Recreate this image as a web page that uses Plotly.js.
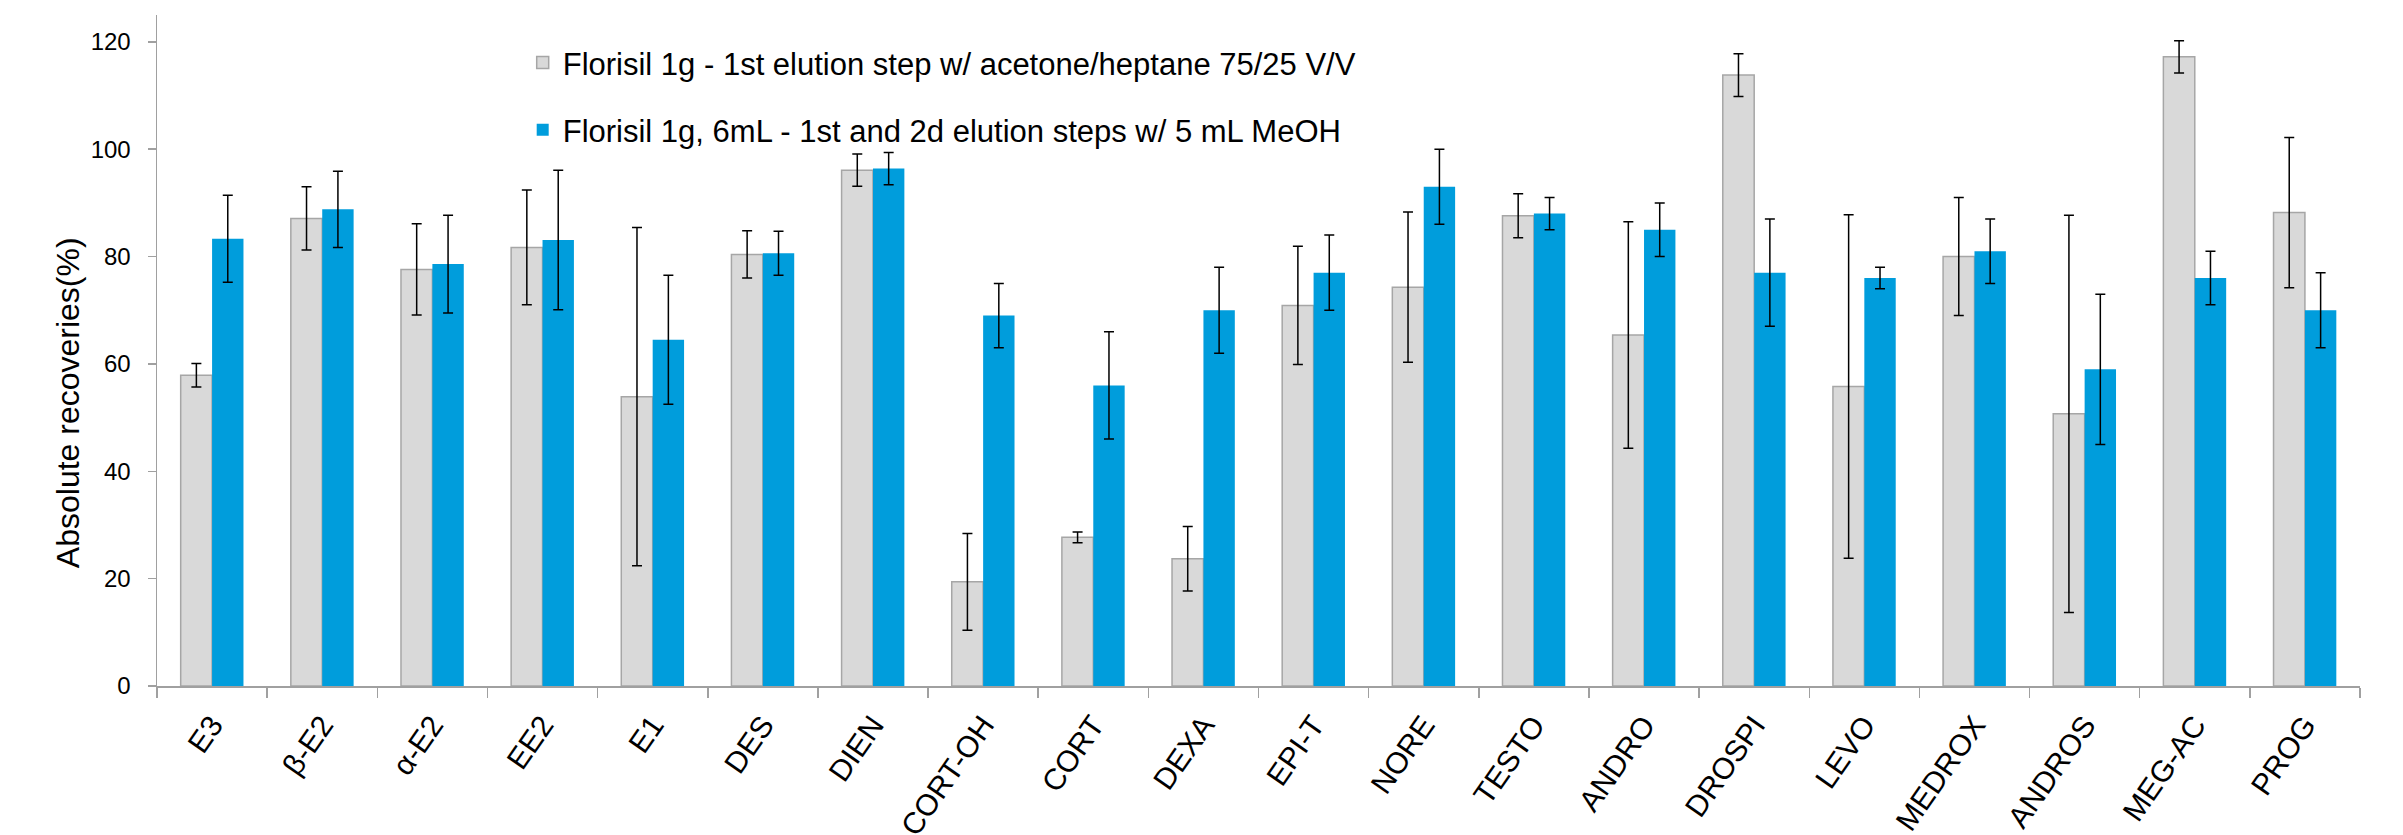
<!DOCTYPE html>
<html>
<head>
<meta charset="utf-8">
<script src="https://cdn.plot.ly/plotly-3.0.1.min.js"></script>
<style>
  html, body { margin: 0; padding: 0; background: #ffffff; }
  #chart { width: 2403px; height: 835px; }
</style>
</head>
<body>
<div id="chart"></div>
<script>
// ---- Data ----
const categories = ["E3", "β-E2", "α-E2", "EE2", "E1", "DES", "DIEN", "CORT-OH", "CORT", "DEXA",
                    "EPI-T", "NORE", "TESTO", "ANDRO", "DROSPI", "LEVO", "MEDROX", "ANDROS", "MEG-AC", "PROG"];

const seriesAcetoneName = "Florisil 1g - 1st elution step w/ acetone/heptane 75/25 V/V";
const seriesAcetone = [57.9, 87.1, 77.6, 81.7, 53.9, 80.4, 96.1, 19.4, 27.7, 23.7,
                       70.9, 74.3, 87.6, 65.4, 113.8, 55.8, 80.0, 50.7, 117.2, 88.2];
const seriesAcetoneErr = [2.2, 5.9, 8.5, 10.7, 31.5, 4.4, 3.0, 9.0, 1.0, 6.0,
                          11.0, 14.0, 4.1, 21.1, 4.0, 32.0, 11.0, 37.0, 3.0, 14.0];

const seriesMeohName = "Florisil 1g, 6mL - 1st and 2d elution steps w/ 5 mL MeOH";
const seriesMeoh = [83.3, 88.8, 78.6, 83.1, 64.5, 80.6, 96.4, 69.0, 56.0, 70.0,
                    77.0, 93.0, 88.0, 85.0, 77.0, 76.0, 81.0, 59.0, 76.0, 70.0];
const seriesMeohErr = [8.1, 7.1, 9.1, 13.0, 12.0, 4.1, 3.0, 6.0, 10.0, 8.0,
                       7.0, 7.0, 3.0, 5.0, 10.0, 2.0, 6.0, 14.0, 5.0, 7.0];

const yTickValues = [0, 20, 40, 60, 80, 100, 120];
const yAxisTitle = "Absolute recoveries(%)";

// ---- Chart ----
const FONT = "Liberation Sans, Arial, sans-serif";

const errStyle = { type: "data", visible: true, color: "#000000", thickness: 1.5, width: 5 };

const traces = [
  {
    type: "bar",
    name: seriesAcetoneName,
    legendgroup: "a",
    x: categories,
    y: seriesAcetone,
    marker: { color: "#d9d9d9", line: { color: "#a6a6a6", width: 1.5 } },
    error_y: Object.assign({ array: seriesAcetoneErr }, errStyle),
    hoverinfo: "x+y"
  },
  {
    type: "bar",
    name: seriesMeohName,
    legendgroup: "b",
    x: categories,
    y: seriesMeoh,
    marker: { color: "#009ddc", line: { color: "#009ddc", width: 0 } },
    error_y: Object.assign({ array: seriesMeohErr }, errStyle),
    hoverinfo: "x+y"
  }
];

const layout = {
  width: 2403,
  height: 835,
  paper_bgcolor: "#ffffff",
  plot_bgcolor: "#ffffff",
  font: { family: FONT, color: "#000000", size: 24 },
  margin: { l: 157, r: 43, t: 15, b: 149, pad: 0 },
  barmode: "group",
  bargap: 0.43,
  bargroupgap: 0,
  showlegend: true,
  legend: {
    x: 0.166, xanchor: "left",
    y: 0.969, yanchor: "top",
    bgcolor: "rgba(0,0,0,0)",
    font: { family: FONT, size: 31, color: "#000000" },
    tracegroupgap: 24,
    traceorder: "grouped"
  },
  xaxis: {
    type: "category",
    showline: true,
    linecolor: "#a0a0a0",
    linewidth: 1.5,
    ticks: "outside",
    tickson: "boundaries",
    ticklen: 10,
    tickwidth: 1.5,
    tickcolor: "#a0a0a0",
    tickangle: -55,
    ticklabelstandoff: 8,
    tickfont: { family: FONT, size: 30, color: "#000000" },
    showgrid: false,
    zeroline: false,
    fixedrange: true
  },
  yaxis: {
    range: [0, 125],
    tickvals: yTickValues,
    showline: true,
    linecolor: "#a0a0a0",
    linewidth: 1.5,
    ticks: "outside",
    ticklen: 8,
    tickwidth: 1.5,
    tickcolor: "#a0a0a0",
    ticklabelstandoff: 12,
    tickfont: { family: FONT, size: 24, color: "#000000" },
    showgrid: false,
    zeroline: false,
    fixedrange: true
  },
  annotations: [
    {
      text: yAxisTitle,
      xref: "paper", yref: "paper",
      x: -0.0404, y: 0.423,
      xanchor: "center", yanchor: "middle",
      textangle: -90,
      showarrow: false,
      font: { family: FONT, size: 32, color: "#000000" }
    }
  ]
};

Plotly.newPlot("chart", traces, layout, { displayModeBar: false, staticPlot: true });
</script>
</body>
</html>
